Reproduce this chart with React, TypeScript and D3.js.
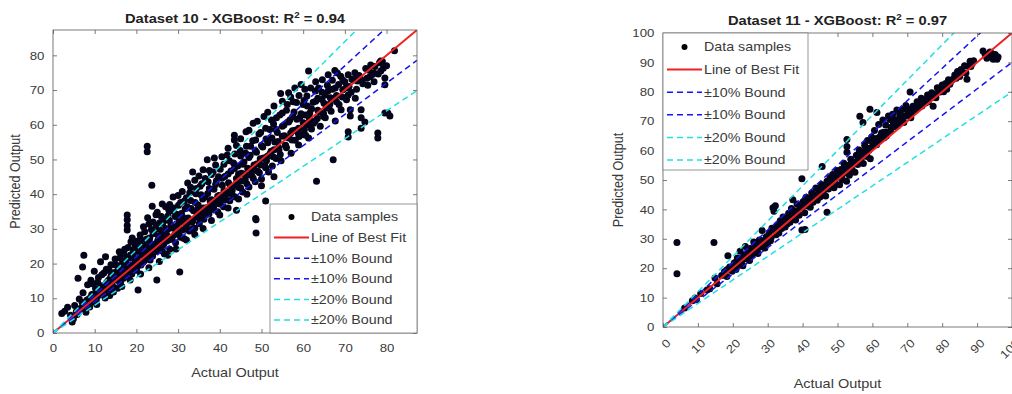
import { useEffect, useRef } from 'react';
import * as d3 from 'd3';

type Pair = [number, number];

// [actual, predicted]
const ds10Low: Pair[] = [
  [2.1, 5.6], [2.8, 6.3], [3.5, 7.4], [4.2, 5.1], [4.6, 3.2], [4.9, 4.1], [5.2, 7.9], [5.6, 6.2], [6.0, 15.8],
  [6.3, 9.8], [6.7, 7.1], [7.1, 19.0], [7.4, 22.4], [7.2, 11.6], [7.6, 8.4], [7.9, 6.0], [8.3, 13.9], [8.5, 9.7],
  [8.8, 7.5], [9.1, 15.2], [9.3, 11.1], [9.6, 8.9], [9.9, 17.8], [10.2, 12.8], [10.4, 9.6], [10.7, 14.6],
  [11.0, 10.9], [11.4, 20.5], [11.3, 12.2], [11.7, 16.8], [12.0, 11.4], [12.3, 13.7], [12.6, 22.0], [12.8, 18.4],
  [13.1, 12.6], [13.3, 15.2], [13.6, 10.8], [13.9, 19.7], [14.1, 14.0], [14.4, 16.6], [14.7, 13.1], [14.9, 21.3],
  [15.2, 15.7], [15.5, 12.9], [15.7, 18.2], [15.9, 23.4], [16.2, 14.6], [16.4, 17.3], [16.7, 20.4], [16.9, 15.8],
  [17.2, 24.1], [17.4, 18.6], [17.8, 29.7], [17.8, 31.0], [17.8, 32.6], [17.8, 34.0], [17.9, 16.3], [18.2, 21.7],
  [18.5, 19.2], [18.7, 26.3], [18.9, 17.0], [19.2, 22.9], [19.4, 19.8], [19.7, 25.2], [19.9, 18.1], [20.2, 21.0],
  [20.4, 12.4], [20.6, 23.8], [20.9, 28.2], [21.1, 19.6], [21.4, 22.4], [21.7, 30.6], [21.9, 20.8], [22.2, 25.1],
  [22.4, 23.0], [22.6, 52.2], [22.6, 53.8], [22.7, 33.2], [22.9, 21.6], [23.2, 27.4], [23.4, 24.3], [23.7, 42.6],
  [23.8, 36.5], [23.9, 22.2], [24.2, 29.1], [24.4, 25.6], [24.7, 34.1], [24.9, 15.3], [25.0, 23.7], [25.3, 27.9],
  [25.6, 31.8], [25.9, 24.9], [26.2, 37.2], [26.4, 28.6], [26.7, 22.8], [26.9, 32.5], [27.2, 26.4], [27.5, 29.8],
  [27.8, 35.4], [28.0, 24.1], [28.3, 31.2], [28.6, 27.6], [28.8, 39.2], [29.1, 30.4], [29.4, 26.0], [29.6, 34.2],
  [29.9, 28.8],
];

const ds10Mid: Pair[] = [
  [30.2, 32.1], [30.4, 17.6], [30.6, 37.6], [30.9, 29.6], [31.1, 33.4], [31.4, 27.2], [31.7, 35.8], [31.9, 30.7],
  [32.3, 43.2], [32.4, 33.1], [32.7, 29.4], [33.0, 38.2], [33.3, 31.9], [33.5, 46.4], [33.7, 35.2], [34.0, 30.2],
  [34.3, 40.1], [34.5, 33.7], [34.8, 36.9], [35.1, 31.5], [35.3, 42.3], [35.6, 34.8], [35.9, 38.6], [36.2, 32.8],
  [36.5, 44.5], [36.8, 36.1], [37.0, 49.9], [37.1, 40.2], [37.4, 34.3], [37.7, 38.0], [38.0, 45.7], [38.3, 35.6],
  [38.7, 50.4], [38.6, 41.4], [38.9, 37.8], [39.2, 43.9], [39.5, 34.9], [39.8, 39.6], [40.1, 47.2], [40.3, 38.2],
  [40.6, 42.6], [40.9, 36.4], [41.2, 45.1], [41.5, 40.0], [41.8, 51.3], [42.1, 43.3], [42.4, 38.1], [42.7, 46.7],
  [43.0, 41.2], [43.3, 49.0], [43.5, 57.0], [43.5, 55.6], [43.7, 39.2], [44.0, 35.4], [44.0, 44.5], [44.3, 48.1],
  [44.6, 41.9], [44.9, 52.6], [45.2, 46.0], [45.5, 40.6], [45.8, 49.3], [46.1, 44.2], [46.3, 58.0], [46.4, 53.8],
  [46.7, 47.5], [47.0, 42.1], [47.3, 51.2], [47.6, 45.6], [47.9, 55.4], [48.2, 48.4], [48.6, 33.0], [48.7, 32.6],
  [48.7, 28.8], [48.5, 43.6], [48.8, 52.1], [49.1, 46.6], [49.4, 57.3], [49.7, 50.2], [50.0, 44.4], [50.3, 53.6],
  [50.6, 62.4], [50.8, 48.2], [51.0, 38.0], [51.1, 55.9], [51.4, 50.9], [51.7, 46.4], [52.0, 58.6], [52.3, 52.4],
  [52.6, 48.1], [52.9, 60.2], [53.2, 55.0], [53.5, 50.3], [53.8, 57.8], [54.1, 53.4], [54.4, 62.8], [54.6, 69.0],
  [54.7, 49.6], [55.0, 56.7],
];

const ds10High: Pair[] = [
  [55.4, 59.9], [55.7, 54.1], [56.0, 64.2], [56.5, 69.2], [56.5, 56.2], [56.8, 61.4], [57.1, 51.8], [57.4, 58.3],
  [57.8, 63.7], [58.1, 55.5], [58.4, 66.4], [58.9, 59.0], [58.9, 54.2], [59.2, 62.1], [59.6, 57.1], [60.0, 65.8],
  [60.3, 60.4], [60.4, 70.2], [60.6, 57.0], [60.9, 68.3], [61.3, 75.5], [61.3, 60.0], [61.3, 56.2], [61.6, 63.4],
  [62.0, 58.8], [62.4, 66.5], [62.9, 69.7], [62.9, 61.1], [63.2, 43.7], [63.5, 64.2], [63.7, 70.6], [64.1, 59.6],
  [64.5, 67.3], [64.9, 62.4], [65.3, 68.6], [65.3, 62.0], [65.8, 71.4], [66.2, 65.1], [66.7, 63.9], [67.0, 72.8],
  [67.2, 49.9], [67.4, 67.6], [67.7, 70.6], [67.7, 61.1], [68.2, 74.9], [68.6, 65.8], [69.0, 74.0], [69.1, 64.3],
  [69.5, 70.1], [70.0, 72.4], [70.4, 67.2], [70.8, 74.4], [70.8, 68.6], [70.8, 58.0], [70.8, 56.5], [71.3, 64.3],
  [71.3, 62.5], [71.7, 73.1], [72.4, 75.0], [72.8, 70.2], [73.0, 72.6], [73.4, 74.2], [73.9, 64.3], [73.9, 62.0],
  [73.9, 59.0], [74.3, 71.8], [74.8, 60.8], [75.3, 73.4], [75.8, 75.7], [76.2, 77.2], [76.6, 74.5], [77.2, 76.8],
  [77.9, 57.6], [77.9, 56.2], [78.3, 77.9], [78.6, 78.4], [78.6, 75.5], [79.2, 76.3], [79.6, 73.5], [79.6, 71.5],
  [79.6, 63.4], [80.3, 63.4], [80.8, 62.5], [81.9, 81.3],
];

// the packed part of the cloud around the diagonal
const ds10Core: Pair[] = [
  [5.8, 5.3], [6.5, 6.9], [7.0, 8.8], [7.7, 7.2], [8.1, 9.4], [8.6, 8.0], [9.0, 10.2], [9.4, 9.0], [9.8, 11.0],
  [10.1, 10.3], [10.6, 12.1], [11.1, 11.7], [11.5, 13.6], [11.9, 12.9], [12.4, 11.9], [12.9, 14.6], [13.4, 13.8],
  [13.8, 16.0], [14.3, 14.9], [14.8, 17.4], [15.3, 16.8], [15.8, 15.0], [16.3, 18.9], [16.8, 17.6], [17.3, 20.8],
  [17.7, 16.9], [18.1, 19.6], [18.6, 22.5], [19.0, 18.6], [19.5, 21.4], [19.9, 23.6], [20.3, 19.3], [20.8, 22.6],
  [21.2, 25.3], [21.6, 20.4], [22.0, 23.6], [22.5, 27.1], [23.0, 22.8], [23.5, 25.8], [24.0, 28.6], [24.5, 23.5],
  [25.1, 26.6], [25.5, 29.8], [26.0, 27.2], [26.5, 25.4], [27.0, 30.1], [27.4, 28.0], [27.9, 32.4], [28.4, 27.0],
  [28.9, 30.2], [29.3, 33.6], [29.8, 31.0], [30.3, 29.4], [30.8, 34.4], [31.3, 31.8], [31.8, 29.9], [32.2, 36.4],
  [32.6, 32.8], [33.1, 35.9], [33.6, 32.4], [34.1, 37.6], [34.6, 35.4], [35.0, 33.2], [35.5, 39.8], [36.0, 36.0],
  [36.5, 39.2], [37.0, 35.6], [37.5, 41.6], [38.0, 38.4], [38.5, 36.2], [39.0, 42.8], [39.5, 39.4], [40.0, 37.2],
  [40.5, 44.6], [41.0, 41.0], [41.5, 38.4], [42.0, 45.8], [42.5, 42.5], [43.0, 39.8], [43.5, 47.4], [44.0, 43.2],
  [44.5, 45.8], [45.0, 41.8], [45.5, 48.6], [46.0, 45.8], [46.5, 43.0], [47.0, 50.6], [47.5, 47.2], [48.0, 44.6],
  [48.5, 52.6], [49.0, 48.8], [49.5, 46.2], [50.0, 54.0], [50.5, 50.4], [51.0, 47.6], [51.5, 54.8], [52.0, 51.6],
  [52.5, 56.2], [53.0, 52.8], [53.5, 58.6], [54.0, 55.2], [54.5, 51.4], [55.0, 59.6], [55.5, 56.8], [56.0, 53.4],
  [56.5, 60.8], [57.0, 57.6], [57.5, 62.4], [58.0, 58.4], [58.5, 61.6], [59.0, 56.6], [59.5, 63.2], [60.0, 60.6],
  [60.5, 62.8], [61.0, 65.4], [61.5, 61.8], [62.0, 64.6], [62.5, 60.4], [63.0, 66.8], [63.5, 67.6], [64.0, 63.6],
  [64.5, 69.4], [65.0, 66.2], [65.5, 64.8], [66.0, 69.8], [66.5, 67.8], [67.0, 70.2], [68.0, 68.4], [68.5, 71.6],
  [69.5, 72.9], [70.2, 70.6], [71.0, 71.0], [72.0, 72.9], [73.0, 74.0], [74.0, 73.0], [75.0, 76.2], [76.0, 73.8],
  [77.0, 74.9], [78.0, 74.6], [79.0, 78.2], [80.0, 77.0],
];

const ds10Spread: Pair[] = [
  [9.4, 14.2], [10.9, 16.0], [12.2, 17.3], [13.5, 18.0], [15.0, 19.6], [16.0, 21.6], [17.0, 22.8], [18.0, 24.6],
  [19.0, 27.4], [20.0, 26.4], [21.0, 27.0], [22.0, 29.2], [23.0, 31.4], [24.0, 32.0], [25.0, 34.8], [26.0, 33.6],
  [27.0, 36.4], [28.0, 37.0], [29.0, 36.0], [30.0, 39.6], [31.0, 40.8], [32.0, 39.0], [33.0, 42.0], [34.0, 44.0],
  [35.0, 45.2], [36.0, 47.0], [37.5, 46.8], [39.0, 48.4], [40.5, 50.8], [42.0, 53.2], [44.0, 54.0], [45.0, 56.0],
  [47.0, 58.4], [48.0, 60.4], [49.0, 61.0], [51.5, 63.6], [53.0, 65.4], [55.0, 66.8], [57.0, 68.0], [58.0, 70.6],
  [59.5, 71.6], [10.5, 8.2], [12.5, 10.1], [14.5, 11.8], [16.5, 13.4], [18.5, 15.3], [21.0, 17.0], [23.0, 18.8],
  [25.5, 20.6], [27.5, 22.4], [29.5, 24.2], [32.0, 26.8], [34.0, 28.4], [36.0, 30.1], [38.0, 32.4], [40.0, 34.0],
  [42.0, 36.0], [44.5, 38.6], [46.5, 40.0], [50.0, 42.4], [53.0, 45.0],
];

const ds10Fill: Pair[] = [
  [14.0, 17.0], [15.6, 19.4], [17.5, 21.0], [19.3, 24.0], [20.7, 25.6], [22.3, 26.8], [23.6, 29.8], [24.8, 31.0],
  [26.3, 31.6], [27.6, 33.8], [28.7, 35.2], [30.1, 36.8], [31.5, 38.0], [32.8, 40.4], [34.4, 41.6], [35.7, 43.0],
  [37.2, 43.6], [38.4, 46.4], [39.7, 45.0], [41.0, 48.6], [42.3, 49.6], [43.6, 51.6], [45.0, 51.0], [46.2, 51.8],
  [47.4, 53.8], [48.6, 55.6], [49.8, 57.8], [51.0, 59.0], [52.4, 61.4], [53.6, 62.0], [55.0, 63.4], [56.2, 65.8],
  [57.6, 66.6], [59.0, 68.4], [60.2, 67.0], [61.8, 70.6], [63.0, 72.4], [64.6, 73.0], [66.0, 74.4], [67.6, 75.6],
  [16.6, 16.2], [18.4, 18.0], [20.0, 18.2], [21.8, 22.0], [23.3, 21.0], [24.7, 24.2], [26.2, 23.6], [27.7, 26.8],
  [29.2, 28.4], [30.6, 27.6], [32.0, 31.2], [33.4, 30.0], [34.8, 33.8], [36.3, 34.4], [37.8, 36.4], [39.2, 37.4],
  [40.7, 39.8], [42.2, 40.6], [43.7, 42.6], [45.2, 43.8], [46.8, 45.6], [48.3, 47.0], [49.8, 48.4], [51.2, 49.6],
  [52.8, 50.8], [54.2, 52.8], [55.8, 54.0], [57.3, 55.6], [58.8, 57.6], [60.3, 58.6], [61.9, 60.6], [63.4, 61.8],
  [64.9, 63.2], [66.4, 66.0], [68.0, 66.6], [69.4, 68.0], [71.5, 69.4], [72.5, 67.6], [75.5, 71.4], [77.0, 72.4],
];

const ds11Low: Pair[] = [
  [4.0, 28.7], [4.0, 18.1], [14.6, 28.7], [18.6, 24.2], [6.2, 6.5], [8.4, 8.9], [9.2, 9.9], [9.6, 9.3],
  [10.8, 11.4], [12.6, 12.6], [13.4, 13.0], [14.9, 16.7], [15.5, 14.7], [16.8, 17.5], [17.6, 18.8], [18.3, 19.5],
  [18.3, 17.2], [19.1, 20.4], [19.8, 19.0], [20.4, 21.8], [20.9, 19.6], [21.3, 23.5], [21.7, 21.0], [22.1, 25.8],
  [22.5, 22.4], [22.9, 20.8], [23.3, 24.6], [23.6, 27.4], [24.0, 23.1], [24.4, 25.9], [24.8, 22.6], [25.2, 26.8],
  [25.6, 24.5], [26.0, 28.9], [26.4, 25.7], [26.8, 27.9], [27.2, 25.0], [27.6, 29.6], [28.0, 27.2], [28.4, 32.8],
  [28.8, 28.4], [29.2, 26.9], [29.6, 30.7], [30.0, 28.6], [30.4, 31.9], [30.8, 29.3], [31.2, 33.6], [31.5, 40.6],
  [31.8, 39.4], [32.2, 41.2], [32.4, 31.4], [32.8, 34.8], [33.2, 32.0], [33.6, 36.1], [34.0, 33.5], [34.4, 37.4],
  [34.8, 34.2], [35.2, 36.8], [35.6, 35.0], [36.0, 38.7], [36.4, 35.6], [36.8, 40.3], [37.2, 43.3], [37.2, 37.1],
  [37.6, 39.5], [38.0, 36.4], [38.4, 41.8], [38.8, 38.3], [39.2, 40.6], [39.8, 50.4], [39.8, 33.0], [40.2, 42.7],
  [40.6, 38.9], [40.7, 33.2], [41.0, 44.1], [41.4, 41.2], [41.8, 43.5], [42.2, 40.7], [42.6, 45.6], [43.0, 44.4],
  [43.0, 42.4], [43.4, 44.8], [43.8, 47.3], [44.2, 43.1], [44.6, 46.4], [45.0, 44.2], [45.6, 54.6], [45.4, 48.5],
  [45.8, 45.3], [46.2, 47.8], [46.6, 44.6], [47.0, 49.6], [47.0, 39.0], [47.4, 46.9], [47.8, 50.8], [48.2, 48.0],
  [48.6, 51.9], [49.0, 47.4], [49.4, 50.5], [49.8, 53.2],
];

const ds11High: Pair[] = [
  [50.2, 51.0], [50.6, 48.4], [51.0, 53.6], [51.4, 50.2], [51.8, 55.7], [52.2, 52.4], [52.7, 63.8], [52.7, 61.4],
  [52.7, 59.4], [52.6, 49.6], [53.0, 54.9], [53.4, 51.6], [53.8, 57.1], [54.2, 53.5], [54.6, 56.0], [55.0, 52.6],
  [55.4, 58.4], [55.8, 55.3], [56.4, 71.7], [56.2, 60.2], [56.6, 56.8], [57.0, 59.5], [57.3, 69.6], [57.4, 55.6],
  [57.8, 61.8], [58.2, 58.3], [58.5, 58.0], [58.6, 63.4], [59.0, 60.1], [59.3, 74.1], [59.4, 57.2], [59.8, 64.6],
  [60.2, 61.5], [60.6, 66.8], [61.0, 62.4], [61.3, 73.0], [61.4, 64.2], [61.8, 68.9], [62.2, 64.8], [62.6, 66.0],
  [63.0, 70.4], [63.4, 64.4], [63.8, 68.7], [64.2, 66.3], [64.6, 71.8], [65.0, 70.6], [65.4, 67.9], [65.8, 72.4],
  [66.2, 68.1], [66.6, 70.5], [67.0, 73.8], [67.4, 69.6], [67.8, 72.2], [68.2, 70.3], [68.8, 74.1], [69.2, 71.6],
  [69.6, 75.3], [70.0, 72.1], [70.8, 79.9], [70.6, 74.0], [71.2, 72.8], [71.6, 75.1], [72.2, 74.4], [72.8, 76.6],
  [73.4, 75.5], [74.0, 77.8], [74.5, 76.8], [75.2, 76.2], [75.8, 78.9], [76.4, 77.6], [77.0, 79.7], [77.4, 75.1],
  [78.0, 79.2], [78.6, 81.4], [79.4, 79.9], [80.0, 82.3], [80.6, 81.0], [81.3, 80.9], [81.8, 84.1], [82.2, 82.6],
  [83.1, 84.3], [83.6, 85.7], [84.4, 86.9], [85.0, 85.2], [85.7, 86.7], [86.4, 88.9], [87.1, 84.3], [87.6, 88.7],
  [88.0, 90.4], [88.6, 89.6], [91.7, 93.9], [92.3, 92.8], [92.8, 91.4], [93.7, 93.5], [94.6, 91.1], [95.2, 92.7],
  [95.7, 91.1], [96.0, 91.8],
];

const ds11Core: Pair[] = [
  [20.0, 20.6], [21.0, 22.2], [22.0, 21.4], [23.0, 23.8], [24.2, 24.6], [25.0, 24.0], [26.2, 27.0], [27.0, 26.4],
  [28.2, 29.4], [29.0, 28.0], [30.2, 30.8], [31.0, 30.4], [32.0, 33.0], [33.0, 34.2], [34.2, 35.6], [35.0, 34.0],
  [36.2, 37.2], [37.0, 38.6], [38.2, 39.0], [39.0, 38.0], [40.0, 41.0], [41.2, 42.6], [42.0, 42.2], [43.2, 45.0],
  [44.0, 44.6], [45.2, 46.4], [46.0, 46.4], [47.2, 48.2], [48.0, 49.4], [49.2, 49.0], [50.0, 52.0], [51.2, 51.6],
  [52.0, 54.0], [53.2, 53.6], [54.0, 55.6], [55.2, 56.0], [56.0, 57.6], [57.2, 58.0], [58.0, 60.0], [59.2, 60.8],
  [60.0, 62.8], [61.2, 62.0], [62.0, 63.6], [63.2, 66.2], [64.0, 65.0], [65.2, 66.6], [66.0, 69.6], [67.2, 68.4],
  [68.0, 72.6], [69.0, 69.6], [70.2, 73.4], [71.0, 71.2], [72.0, 73.8], [73.0, 74.4], [74.2, 75.2], [75.0, 77.2],
  [76.0, 76.6], [77.2, 78.2], [78.2, 78.0], [79.0, 81.0], [80.4, 80.0], [81.0, 82.8], [82.6, 83.8], [84.0, 84.6],
  [85.4, 87.6], [86.8, 86.4], [88.2, 88.6], [89.0, 90.6], [93.2, 92.2], [94.2, 93.0],
];

const legendLabels = ['Data samples', 'Line of Best Fit', '±10% Bound', '±10% Bound', '±20% Bound', '±20% Bound'];
const boundFactors = [1.1, 0.9, 1.2, 0.8];
const boundColors = ['#1515f0', '#1515f0', '#22e0e0', '#22e0e0'];
const ticks10 = [0, 10, 20, 30, 40, 50, 60, 70, 80];
const ticks11 = [0, 10, 20, 30, 40, 50, 60, 70, 80, 90, 100];

const SX = 1.15; // the figure is a little wider than tall
const FONT = '"Liberation Sans", Arial, Helvetica, sans-serif';
const TEXT = '#3a3a3a';
const AXIS = '#5a5a5a';

interface Panel {
  id: string;
  title: string;
  r2: string;
  data: Pair[];
  max: number;
  ticks: number[];
  left: number;
  right: number;
  top: number;
  bottom: number;
  legend: { x: number; y: number; w: number; h: number; first: number; step: number };
  rotate: boolean;
  xLabelY: number;
  yLabelX: number;
  titleY: number;
}

const panels: Panel[] = [
  {
    id: 'p10', title: 'Dataset 10 - XGBoost: R', r2: '0.94',
    data: [...ds10Low, ...ds10Mid, ...ds10High, ...ds10Core, ...ds10Spread, ...ds10Fill],
    max: 87.3, ticks: ticks10, left: 53, right: 417, top: 30, bottom: 333,
    legend: { x: 270, y: 204, w: 147, h: 129, first: 13, step: 20.6 },
    rotate: false, xLabelY: 377, yLabelX: 20, titleY: 23,
  },
  {
    id: 'p11', title: 'Dataset 11 - XGBoost: R', r2: '0.97',
    data: [...ds11Low, ...ds11High, ...ds11Core],
    max: 100, ticks: ticks11, left: 663, right: 1012, top: 33, bottom: 327,
    legend: { x: 663, y: 33, w: 145, h: 137, first: 14, step: 22.6 },
    rotate: true, xLabelY: 388, yLabelX: 623, titleY: 25,
  },
];

function drawPanel(svg: d3.Selection<SVGSVGElement, unknown, null, undefined>, p: Panel) {
  const x = d3.scaleLinear().domain([0, p.max]).range([p.left, p.right]);
  const y = d3.scaleLinear().domain([0, p.max]).range([p.bottom, p.top]);
  const g = svg.append('g').attr('font-family', FONT);

  svg.append('defs').append('clipPath').attr('id', `clip-${p.id}`)
    .append('rect').attr('x', p.left).attr('y', p.top)
    .attr('width', p.right - p.left).attr('height', p.bottom - p.top);

  const plot = g.append('g').attr('clip-path', `url(#clip-${p.id})`);

  plot.selectAll('circle').data(p.data).join('circle')
    .attr('cx', (d) => x(d[0])).attr('cy', (d) => y(d[1]))
    .attr('r', 3.5).attr('fill', '#04041a');

  const line = d3.line<Pair>().x((d) => x(d[0])).y((d) => y(d[1]));
  plot.append('path').attr('d', line([[0, 0], [p.max, p.max]]))
    .attr('stroke', '#ee2222').attr('stroke-width', 2).attr('fill', 'none');
  boundFactors.forEach((f, i) => {
    plot.append('path').attr('d', line([[0, 0], [p.max, p.max * f]]))
      .attr('stroke', boundColors[i]).attr('stroke-width', 1.5)
      .attr('stroke-dasharray', '6,4').attr('fill', 'none');
  });

  // axes, ticks pointing inwards on all four sides
  const xAxis = g.append('g').attr('transform', `translate(0,${p.bottom})`)
    .call(d3.axisBottom(x).tickValues(p.ticks).tickSizeInner(-4).tickSizeOuter(0).tickPadding(p.rotate ? 0 : 11));
  const yAxis = g.append('g').attr('transform', `translate(${p.left},0)`)
    .call(d3.axisLeft(y).tickValues(p.ticks).tickSizeInner(-4).tickSizeOuter(0).tickPadding(7.5));
  g.append('g').attr('transform', `translate(0,${p.top})`)
    .call(d3.axisTop(x).tickValues(p.ticks).tickSizeInner(-4).tickSizeOuter(0).tickFormat(() => ''));
  g.append('g').attr('transform', `translate(${p.right},0)`)
    .call(d3.axisRight(y).tickValues(p.ticks).tickSizeInner(-4).tickSizeOuter(0).tickFormat(() => ''));

  g.selectAll('.domain').remove();
  g.selectAll('.tick line').attr('stroke', AXIS).attr('stroke-width', 0.8);
  g.selectAll('.tick text').attr('fill', TEXT).attr('font-size', 11.5).attr('font-family', FONT);
  yAxis.selectAll('.tick text').attr('transform', `scale(${SX},1)`);
  if (p.rotate) {
    xAxis.selectAll('.tick text')
      .attr('y', 0).attr('dy', '0.35em').attr('text-anchor', 'end')
      .attr('transform', `translate(5,14) rotate(-45) scale(${SX},1)`);
  } else {
    xAxis.selectAll('.tick text').attr('transform', `scale(${SX},1)`);
  }

  g.append('rect').attr('x', p.left).attr('y', p.top)
    .attr('width', p.right - p.left).attr('height', p.bottom - p.top)
    .attr('fill', 'none').attr('stroke', AXIS).attr('stroke-width', 0.8);

  // title with superscript
  const title = g.append('text')
    .attr('transform', `translate(${(p.left + p.right) / 2},${p.titleY}) scale(${SX},1)`)
    .attr('text-anchor', 'middle').attr('font-weight', 'bold').attr('font-size', 12.8).attr('fill', '#222');
  title.append('tspan').text(p.title);
  title.append('tspan').attr('dy', -5).attr('font-size', 8.5).text('2');
  title.append('tspan').attr('dy', 5).text(` = ${p.r2}`);

  g.append('text')
    .attr('transform', `translate(${(p.left + p.right) / 2},${p.xLabelY}) scale(${SX},1)`)
    .attr('text-anchor', 'middle').attr('font-size', 12.6).attr('fill', TEXT).text('Actual Output');
  g.append('text')
    .attr('transform', `translate(${p.yLabelX},${(p.top + p.bottom) / 2}) rotate(-90) scale(1,${SX})`)
    .attr('text-anchor', 'middle').attr('font-size', 12.6).attr('fill', TEXT).text('Predicted Output');

  // legend
  const L = p.legend;
  const lg = g.append('g');
  lg.append('rect').attr('x', L.x).attr('y', L.y).attr('width', L.w).attr('height', L.h)
    .attr('fill', '#fff').attr('stroke', '#7a7a7a').attr('stroke-width', 0.8);
  legendLabels.forEach((label, i) => {
    const cy = L.y + L.first + L.step * i;
    const x0 = L.x + 4;
    const x1 = L.x + 39;
    if (i === 0) {
      lg.append('circle').attr('cx', (x0 + x1) / 2).attr('cy', cy).attr('r', 3).attr('fill', '#000');
    } else if (i === 1) {
      lg.append('line').attr('x1', x0).attr('x2', x1).attr('y1', cy).attr('y2', cy)
        .attr('stroke', '#ee2222').attr('stroke-width', 2);
    } else {
      lg.append('line').attr('x1', x0).attr('x2', x1).attr('y1', cy).attr('y2', cy)
        .attr('stroke', boundColors[i - 2]).attr('stroke-width', 1.5).attr('stroke-dasharray', '6,4');
    }
    lg.append('text')
      .attr('transform', `translate(${x1 + 2},${cy + 4.4}) scale(${SX},1)`)
      .attr('font-size', 12.4).attr('fill', TEXT).text(label);
  });
}

export default function App() {
  const svgRef = useRef<SVGSVGElement>(null);

  useEffect(() => {
    if (!svgRef.current) return;
    const svg = d3.select(svgRef.current);
    svg.selectAll('*').remove();
    panels.forEach((p) => drawPanel(svg, p));
  }, []);

  return (
    <svg
      ref={svgRef}
      width={1012}
      height={394}
      style={{ position: 'absolute', left: 0, top: 0, background: '#fff' }}
    />
  );
}
